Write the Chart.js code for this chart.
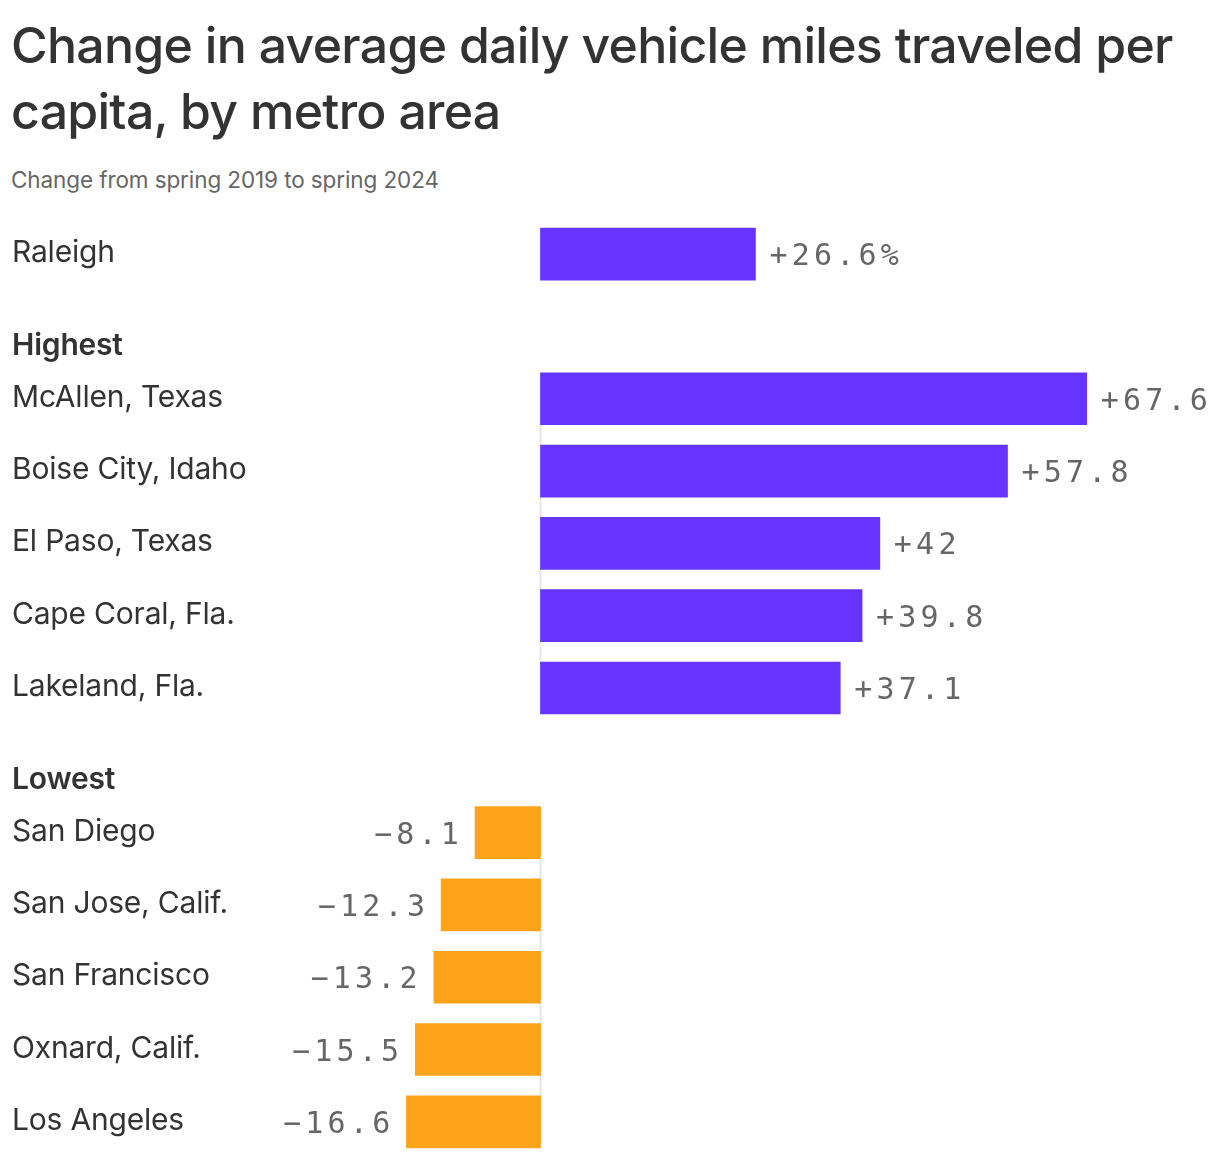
<!DOCTYPE html>
<html>
<head>
<meta charset="utf-8">
<script src="https://cdn.jsdelivr.net/npm/chart.js@4"></script>
<style>
  html, body { margin: 0; padding: 0; background: #fff; }
  body { width: 1220px; height: 1158px; position: relative; overflow: hidden; font-family: Inter, "Noto Sans", sans-serif; }
  #title { position: absolute; left: 11px; top: 12px; width: 1205px; font-size: 50px; line-height: 66px; color: #333; font-weight: 450; letter-spacing: -0.72px; }
  #subtitle { position: absolute; left: 11px; top: 166px; font-size: 22.5px; color: #666; letter-spacing: -0.1px; }
  #wrap { position: absolute; left: 0; top: 218px; width: 1220px; height: 940px; }
</style>
</head>
<body>
<div id="title">Change in average daily vehicle miles traveled per capita, by metro area</div>
<div id="subtitle">Change from spring 2019 to spring 2024</div>
<div id="wrap"><canvas id="c" width="1220" height="940"></canvas></div>
<script>
const categories = ["Raleigh", "Highest", "McAllen, Texas", "Boise City, Idaho", "El Paso, Texas", "Cape Coral, Fla.", "Lakeland, Fla.", "Lowest", "San Diego", "San Jose, Calif.", "San Francisco", "Oxnard, Calif.", "Los Angeles"];
const values = [26.6, null, 67.6, 57.8, 42, 39.8, 37.1, null, -8.1, -12.3, -13.2, -15.5, -16.6];
const valueLabels = ["+26.6%", "", "+67.6", "+57.8", "+42", "+39.8", "+37.1", "", "\u22128.1", "\u221212.3", "\u221213.2", "\u221215.5", "\u221216.6"];
const headers = ["Highest", "Lowest"];

const POS = "#6633ff", NEG = "#ffa31a";

const labelsPlugin = {
  id: "labelsPlugin",
  beforeDatasetsDraw(chart) {
    const ctx = chart.ctx, x = chart.scales.x, y = chart.scales.y;
    const x0 = x.getPixelForValue(0);
    ctx.save();
    ctx.strokeStyle = "#e6e6e6";
    ctx.lineWidth = 2;
    let start = null;
    for (let i = 0; i <= values.length; i++) {
      const v = i < values.length ? values[i] : null;
      if (v !== null && start === null) start = i;
      if (v === null && start !== null) {
        const top = y.getPixelForValue(start) - 26, bot = y.getPixelForValue(i - 1) + 26;
        ctx.beginPath(); ctx.moveTo(x0, top); ctx.lineTo(x0, bot); ctx.stroke();
        start = null;
      }
    }
    ctx.restore();
  },
  afterDatasetsDraw(chart) {
    const ctx = chart.ctx, y = chart.scales.y;
    const meta = chart.getDatasetMeta(0);
    ctx.save();
    categories.forEach((c, i) => {
      const cy = y.getPixelForValue(i);
      const isHeader = headers.includes(c);
      ctx.fillStyle = "#333";
      ctx.textAlign = "left";
      ctx.textBaseline = "alphabetic";
      ctx.letterSpacing = "-0.2px";
      if (isHeader) {
        ctx.font = "600 30px Inter, 'Noto Sans', sans-serif";
        ctx.fillText(c, 12, cy + 29);
      } else {
        ctx.font = "400 30px Inter, 'Noto Sans', sans-serif";
        ctx.fillText(c, 12, cy + 8);
      }
      const v = values[i];
      if (v !== null) {
        const bar = meta.data[i];
        ctx.font = "400 30px 'DejaVu Sans Mono', monospace";
        ctx.fillStyle = "#666";
        ctx.letterSpacing = "4.2px";
        if (v >= 0) {
          ctx.textAlign = "left";
          ctx.fillText(valueLabels[i], bar.x + 14, cy + 11);
        } else {
          ctx.textAlign = "right";
          ctx.fillText(valueLabels[i], bar.x - 12, cy + 11);
        }
      }
    });
    ctx.restore();
  }
};

new Chart(document.getElementById("c"), {
  type: "bar",
  data: {
    labels: categories,
    datasets: [{
      data: values,
      backgroundColor: values.map(v => (v !== null && v < 0) ? NEG : POS),
      borderWidth: 0,
      barThickness: 52
    }]
  },
  options: {
    indexAxis: "y",
    responsive: false,
    animation: false,
    layout: { padding: 0 },
    plugins: { legend: { display: false }, tooltip: { enabled: false } },
    scales: {
      x: { display: false, min: -66.9, max: 84.1 },
      y: { display: false }
    }
  },
  plugins: [labelsPlugin]
});
</script>
</body>
</html>
